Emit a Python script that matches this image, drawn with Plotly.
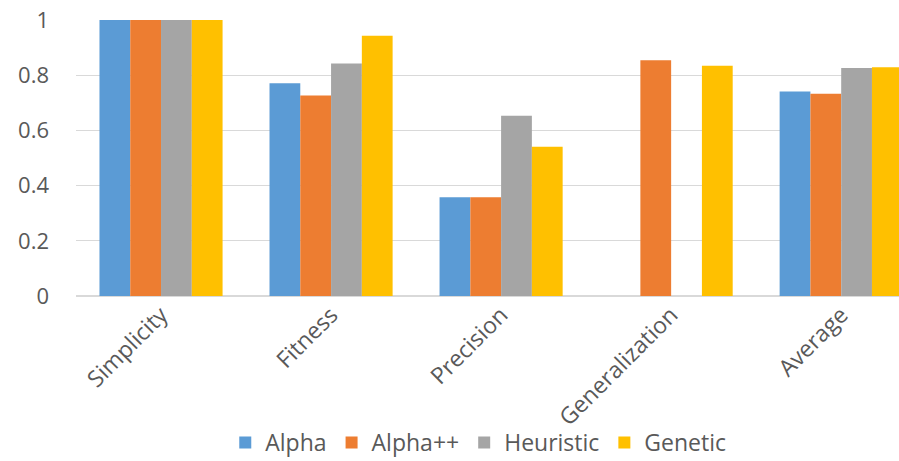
import plotly.graph_objects as go

categories = ["Simplicity", "Fitness", "Precision", "Generalization", "Average"]
alpha = [1.0, 0.771, 0.358, 0.0, 0.741]
alpha_pp = [1.0, 0.726, 0.358, 0.854, 0.733]
heuristic = [1.0, 0.842, 0.653, 0.0, 0.826]
genetic = [1.0, 0.943, 0.541, 0.834, 0.829]
y_ticks = [0, 0.2, 0.4, 0.6, 0.8, 1]
y_tick_labels = ["0", "0.2", "0.4", "0.6", "0.8", "1"]

series = [
    ("Alpha", alpha, "#5B9BD5"),
    ("Alpha++", alpha_pp, "#ED7D31"),
    ("Heuristic", heuristic, "#A5A5A5"),
    ("Genetic", genetic, "#FFC000"),
]

fig = go.Figure()
for name, vals, color in series:
    fig.add_trace(go.Bar(name=name, x=categories, y=vals,
                         marker=dict(color=color, line=dict(width=0))))

font_color = "#595959"
fig.update_layout(
    width=899, height=461,
    margin=dict(l=76, r=0, t=20, b=165, autoexpand=False),
    paper_bgcolor="white", plot_bgcolor="white",
    barmode="group", bargap=0.276, bargroupgap=0,
    font=dict(family="Open Sans", size=22, color=font_color),
    legend=dict(orientation="h", xref="container", yref="container",
                x=0.532, xanchor="center", y=0.04, yanchor="middle",
                bgcolor="rgba(0,0,0,0)",
                font=dict(size=23, color=font_color), itemwidth=30,
                traceorder="normal"),
    showlegend=True,
)
fig.update_xaxes(range=[-0.5, 4.34], tickangle=-45, showgrid=False, automargin=False,
                 showline=False, ticks="", ticklabelstandoff=0,
                 tickfont=dict(size=23, color=font_color))
fig.update_yaxes(range=[0, 1], tickvals=y_ticks, ticktext=y_tick_labels, automargin=False,
                 showgrid=True, gridcolor="#D9D9D9", gridwidth=1,
                 zeroline=True, zerolinecolor="#D9D9D9", showline=False,
                 ticks="", ticklabelstandoff=26,
                 tickfont=dict(size=22, color=font_color))

fig.write_html("out.html")
